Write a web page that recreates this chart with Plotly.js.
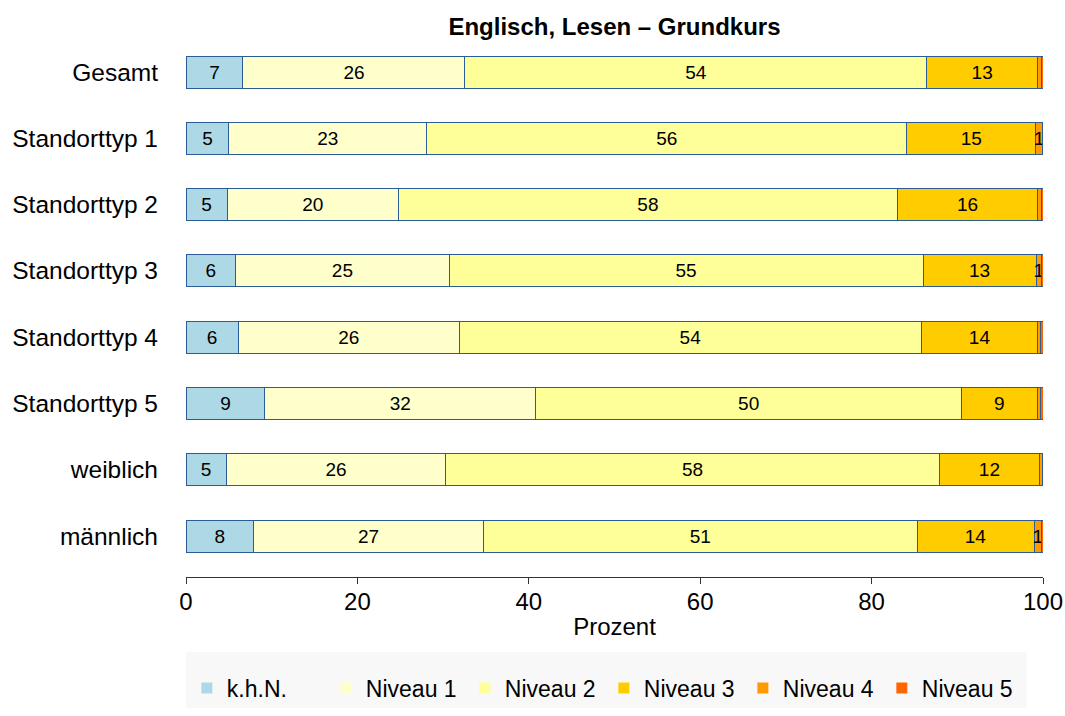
<!DOCTYPE html>
<html>
<head>
<meta charset="utf-8">
<script src="https://cdn.plot.ly/plotly-3.0.1.min.js"></script>
<style>
  html, body { margin: 0; padding: 0; background: #fff; }
  #chart { width: 1065px; height: 716px; }
</style>
</head>
<body>
<div id="chart"></div>
<script>
// groups (top to bottom) and answer levels
let groups = ["Gesamt", "Standorttyp 1", "Standorttyp 2", "Standorttyp 3",
              "Standorttyp 4", "Standorttyp 5", "weiblich", "männlich"];
let levels = ["k.h.N.", "Niveau 1", "Niveau 2", "Niveau 3", "Niveau 4", "Niveau 5"];
let levelColors = ["#ADD8E6", "#FFFFCC", "#FFFF99", "#FFCC00", "#FF9900", "#FF6600"];

// percentages per level, one value per group
let khn   = [6.65, 5.0, 4.8, 5.8, 6.1, 9.2, 4.7, 7.9];
let niv1  = [25.9, 23.1, 20.0, 24.9, 25.8, 31.6, 25.6, 26.8];
let niv2  = [53.9, 56.0, 58.2, 55.3, 53.9, 49.7, 57.6, 50.6];
let niv3  = [12.9, 15.05, 16.4, 13.2, 13.6, 8.8, 11.7, 13.65];
let niv4  = [0.45, 0.75, 0.4, 0.6, 0.35, 0.45, 0.3, 0.9];
let niv5  = [0.2, 0.1, 0.2, 0.2, 0.25, 0.25, 0.1, 0.15];

let series = [khn, niv1, niv2, niv3, niv4, niv5];

let font = "Liberation Sans, Arial, Helvetica, sans-serif";

// label only the segments that round to at least 1
function labels(vals) {
    return vals.map(v => Math.round(v) >= 1 ? String(Math.round(v)) : "");
}

let traces = series.map((vals, i) => ({
    type: "bar",
    orientation: "h",
    x: vals,
    y: groups,
    name: levels[i],
    showlegend: false,
    marker: { color: levelColors[i], line: { color: "#2B5C96", width: 1 } },
    text: labels(vals),
    textposition: "inside",
    insidetextanchor: "middle",
    constraintext: "none",
    textangle: 0,
    textfont: { family: font, size: 19, color: "#000" },
    hoverinfo: "name+x"
}));

// legend entries as plain squares (no outline)
levels.forEach((lv, i) => {
    traces.push({
        type: "scatter",
        mode: "markers",
        x: [null],
        y: [null],
        name: lv,
        marker: { symbol: "square", size: 11, color: levelColors[i] },
        showlegend: true
    });
});

let layout = {
    width: 1065,
    height: 716,
    margin: { l: 186, r: 22, t: 40, b: 139 },
    paper_bgcolor: "#fff",
    plot_bgcolor: "#fff",
    font: { family: font, size: 24, color: "#000" },
    barmode: "stack",
    bargap: 0.517,
    title: {
        text: "<b>Englisch, Lesen – Grundkurs</b>",
        font: { family: font, size: 24, color: "#000" },
        x: 0.5, xref: "paper", xanchor: "center",
        y: 1 - 27 / 716, yref: "container", yanchor: "middle"
    },
    xaxis: {
        range: [0, 100],
        tickvals: [0, 20, 40, 60, 80, 100],
        ticks: "outside",
        ticklen: 6,
        tickcolor: "#333",
        showline: true,
        linecolor: "#333",
        linewidth: 1,
        showgrid: false,
        zeroline: false,
        automargin: false,
        ticklabelstandoff: -3,
        tickfont: { size: 24 },
        title: { text: "Prozent", font: { size: 24 }, standoff: 4 }
    },
    yaxis: {
        type: "category",
        range: [7.618, -0.483],
        showgrid: false,
        zeroline: false,
        showline: false,
        automargin: false,
        ticks: "",
        ticklabelstandoff: 27,
        tickfont: { size: 24.5 }
    },
    legend: {
        orientation: "h",
        traceorder: "normal",
        xref: "paper", x: 0.001, xanchor: "left",
        yref: "container", y: 1 - 688 / 716, yanchor: "middle",
        entrywidth: 94, entrywidthmode: "pixels",
        bgcolor: "rgba(0,0,0,0)",
        font: { size: 23 }
    },
    shapes: [{
        type: "rect", xref: "paper", yref: "paper",
        x0: 0, x1: 0.981, y0: -0.1397, y1: -0.244,
        fillcolor: "#F8F8F8", line: { width: 0 }, layer: "below"
    }]
};

Plotly.newPlot("chart", traces, layout, { displayModeBar: false, staticPlot: true });
</script>
</body>
</html>
